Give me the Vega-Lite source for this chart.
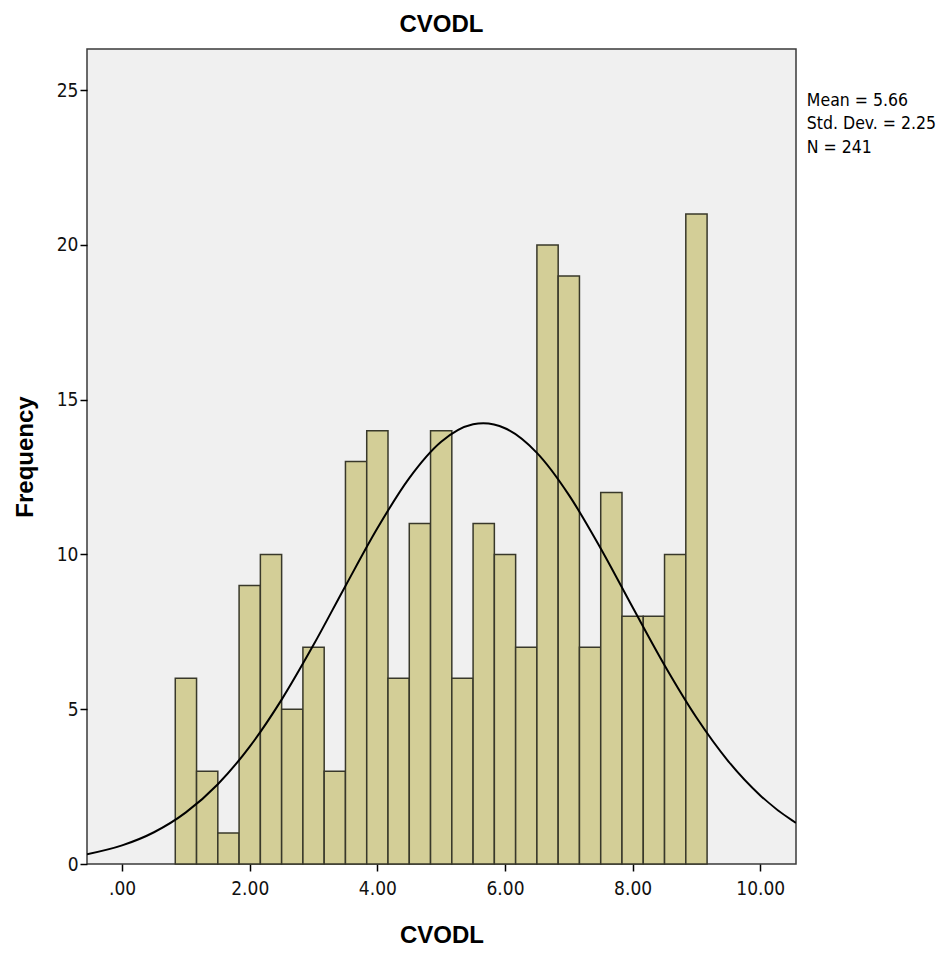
{
  "$schema": "https://vega.github.io/schema/vega-lite/v6.json",
  "autosize": {"type": "none"},
  "width": 709,
  "height": 815,
  "padding": {"left": 87, "top": 49, "right": 148, "bottom": 91},
  "background": "white",
  "title": {"text": "CVODL", "font": "Liberation Sans", "fontSize": 24, "fontWeight": "bold", "color": "black", "offset": 12, "anchor": "middle"},
  "config": {
    "view": {"fill": "#F0F0F0", "stroke": "#3a3a3a", "strokeWidth": 1.5},
    "axis": {"grid": false, "domain": false, "tickColor": "black", "tickWidth": 1.5, "tickSize": 7,
      "labelFont": "DejaVu Sans Condensed, Liberation Sans", "labelFontSize": 19, "labelColor": "#111",
      "titleFont": "Liberation Sans", "titleFontSize": 24, "titleFontWeight": "bold", "titleColor": "black"}
  },
  "datasets": {
    "bins": [
      {"start": 0.8333, "end": 1.1667, "count": 6},
      {"start": 1.1667, "end": 1.5, "count": 3},
      {"start": 1.5, "end": 1.8333, "count": 1},
      {"start": 1.8333, "end": 2.1667, "count": 9},
      {"start": 2.1667, "end": 2.5, "count": 10},
      {"start": 2.5, "end": 2.8333, "count": 5},
      {"start": 2.8333, "end": 3.1667, "count": 7},
      {"start": 3.1667, "end": 3.5, "count": 3},
      {"start": 3.5, "end": 3.8333, "count": 13},
      {"start": 3.8333, "end": 4.1667, "count": 14},
      {"start": 4.1667, "end": 4.5, "count": 6},
      {"start": 4.5, "end": 4.8333, "count": 11},
      {"start": 4.8333, "end": 5.1667, "count": 14},
      {"start": 5.1667, "end": 5.5, "count": 6},
      {"start": 5.5, "end": 5.8333, "count": 11},
      {"start": 5.8333, "end": 6.1667, "count": 10},
      {"start": 6.1667, "end": 6.5, "count": 7},
      {"start": 6.5, "end": 6.8333, "count": 20},
      {"start": 6.8333, "end": 7.1667, "count": 19},
      {"start": 7.1667, "end": 7.5, "count": 7},
      {"start": 7.5, "end": 7.8333, "count": 12},
      {"start": 7.8333, "end": 8.1667, "count": 8},
      {"start": 8.1667, "end": 8.5, "count": 8},
      {"start": 8.5, "end": 8.8333, "count": 10},
      {"start": 8.8333, "end": 9.1667, "count": 21}
    ],
    "curve": [
      {"x": -0.55, "y": 0.316},
      {"x": 0, "y": 0.602},
      {"x": 0.5, "y": 1.026},
      {"x": 1, "y": 1.667},
      {"x": 1.5, "y": 2.578},
      {"x": 2, "y": 3.792},
      {"x": 2.5, "y": 5.311},
      {"x": 3, "y": 7.08},
      {"x": 3.5, "y": 8.983},
      {"x": 4, "y": 10.847},
      {"x": 4.5, "y": 12.467},
      {"x": 5, "y": 13.641},
      {"x": 5.5, "y": 14.204},
      {"x": 5.66, "y": 14.24},
      {"x": 6, "y": 14.078},
      {"x": 6.5, "y": 13.282},
      {"x": 7, "y": 11.926},
      {"x": 7.5, "y": 10.193},
      {"x": 8, "y": 8.292},
      {"x": 8.5, "y": 6.421},
      {"x": 9, "y": 4.732},
      {"x": 9.5, "y": 3.319},
      {"x": 10, "y": 2.216},
      {"x": 10.5, "y": 1.408},
      {"x": 10.56, "y": 1.33}
    ],
    "stats": [
      {"text": ["Mean = 5.66", "Std. Dev. = 2.25", "N = 241"]}
    ]
  },
  "layer": [
    {
      "data": {"name": "bins"},
      "mark": {"type": "rect", "fill": "#D3CE97", "stroke": "#38382a", "strokeWidth": 1.5},
      "encoding": {
        "x": {"field": "start", "type": "quantitative",
          "scale": {"domain": [-0.55, 10.56], "nice": false, "zero": false},
          "axis": {"title": "CVODL", "values": [0, 2, 4, 6, 8, 10], "labelPadding": 8, "titlePadding": 25,
            "labelExpr": "datum.value == 0 ? '.00' : format(datum.value, '.2f')"}},
        "x2": {"field": "end"},
        "y": {"field": "count", "type": "quantitative",
          "scale": {"domain": [0, 26.33], "nice": false},
          "axis": {"title": "Frequency", "values": [0, 5, 10, 15, 20, 25], "labelPadding": 2, "titlePadding": 19}},
        "y2": {"datum": 0}
      }
    },
    {
      "data": {"name": "curve"},
      "mark": {"type": "line", "color": "black", "strokeWidth": 2, "interpolate": "monotone", "clip": true},
      "encoding": {
        "x": {"field": "x", "type": "quantitative"},
        "y": {"field": "y", "type": "quantitative"}
      }
    },
    {
      "data": {"name": "stats"},
      "mark": {"type": "text", "align": "left", "baseline": "top", "font": "DejaVu Sans Condensed, Liberation Sans", "fontSize": 17.5, "lineHeight": 23.5, "color": "black"},
      "encoding": {
        "x": {"datum": 10.73, "type": "quantitative"},
        "y": {"datum": 24.95, "type": "quantitative"},
        "text": {"field": "text"}
      }
    }
  ]
}
